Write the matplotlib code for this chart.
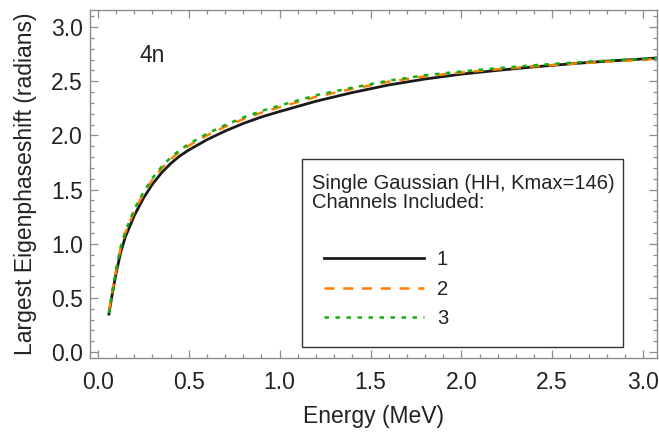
import matplotlib
matplotlib.use('Agg')
import matplotlib.pyplot as plt
from matplotlib.patches import Rectangle
from matplotlib.ticker import MultipleLocator

# energies (MeV) and largest eigenphaseshift (radians) per number of channels
energy = [0.06, 0.08, 0.10, 0.125, 0.15, 0.20, 0.25, 0.30, 0.35, 0.40, 0.45, 0.50, 0.60, 0.70,
          0.80, 0.90, 1.00, 1.20, 1.40, 1.60, 1.80, 2.00, 2.20, 2.40, 2.60, 2.80, 3.00, 3.08]
chan1 = [0.35, 0.55, 0.73, 0.92, 1.06, 1.26, 1.42, 1.55, 1.655, 1.74, 1.81, 1.865, 1.96, 2.04,
         2.11, 2.17, 2.22, 2.315, 2.395, 2.465, 2.52, 2.565, 2.60, 2.632, 2.66, 2.685, 2.705, 2.715]
chan2 = [0.37, 0.57, 0.76, 0.96, 1.10, 1.30, 1.46, 1.59, 1.695, 1.78, 1.85, 1.905, 2.00, 2.08,
         2.15, 2.21, 2.26, 2.355, 2.43, 2.495, 2.545, 2.58, 2.61, 2.637, 2.66, 2.68, 2.697, 2.707]
chan3 = [0.36, 0.57, 0.77, 0.97, 1.11, 1.32, 1.475, 1.605, 1.71, 1.795, 1.865, 1.92, 2.015, 2.095,
         2.165, 2.225, 2.275, 2.37, 2.44, 2.505, 2.555, 2.59, 2.62, 2.647, 2.67, 2.69, 2.705, 2.715]

plt.rcParams['font.family'] = ['Liberation Sans', 'DejaVu Sans']
fs = 16.5
lfs = 14.5
frame = '#8c8c8c'
ink = '#222222'

fig = plt.figure(figsize=(6.59, 4.40), dpi=100)
ax = fig.add_axes([90 / 659, (440 - 358) / 440, 567 / 659, 348 / 440])

ax.plot(energy, chan1, color='#1a1a1a', lw=2.0, label='1')
ax.plot(energy, chan2, color='#ff8000', lw=1.8, dashes=(4, 3.5), label='2')
ax.plot(energy, chan3, color='#10b010', lw=1.8, dashes=(1.8, 2.6), label='3')

ax.set_xlim(-0.044, 3.077)
ax.set_ylim(-0.055, 3.157)
ax.xaxis.set_major_locator(MultipleLocator(0.5))
ax.xaxis.set_minor_locator(MultipleLocator(0.1))
ax.yaxis.set_major_locator(MultipleLocator(0.5))
ax.yaxis.set_minor_locator(MultipleLocator(0.1))
ax.xaxis.set_major_formatter(lambda v, p: f'{v:.1f}')
ax.yaxis.set_major_formatter(lambda v, p: f'{v:.1f}')
ax.tick_params(which='both', direction='in', top=True, right=True, color=frame,
               labelsize=fs, labelcolor=ink, width=0.9)
ax.tick_params(which='major', length=6)
ax.tick_params(axis='x', which='major', pad=9)
ax.tick_params(axis='y', which='major', pad=5)
ax.tick_params(which='minor', length=3)
for s in ax.spines.values():
    s.set_color(frame)
    s.set_linewidth(1.0)

ax.set_xlabel('Energy (MeV)', fontsize=fs, color=ink, labelpad=8)
ax.set_ylabel('Largest Eigenphaseshift (radians)', fontsize=fs, color=ink, labelpad=10)

ax.text(0.23, 2.74, '4n', fontsize=fs, color=ink, va='center')

# legend box drawn by hand so the title/entry spacing matches
ax.add_patch(Rectangle((0.374, 0.032), 0.566, 0.540, transform=ax.transAxes,
                       facecolor='white', edgecolor='#333333', lw=1.0, zorder=4))
ax.text(0.391, 0.474, 'Single Gaussian (HH, Kmax=146)\nChannels Included:',
        transform=ax.transAxes, fontsize=lfs, color=ink, va='center', ha='left',
        linespacing=1.0, zorder=5)
leg = ax.legend(loc='upper left', bbox_to_anchor=(0.4127, 0.309), frameon=False,
                fontsize=lfs, handlelength=4.97, handletextpad=0.63, labelspacing=0.52,
                borderpad=0, borderaxespad=0)
leg.set_zorder(6)
for t in leg.get_texts():
    t.set_color(ink)

fig.savefig('out.png', dpi=100)
